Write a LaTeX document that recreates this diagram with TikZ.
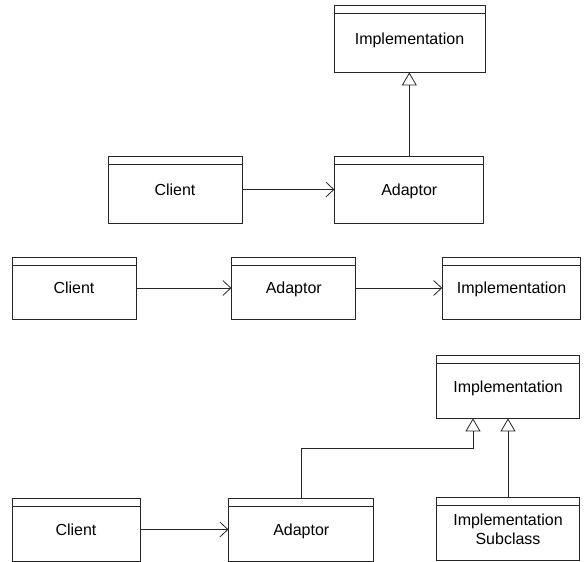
\documentclass[tikz,border=0pt]{standalone}
\usepackage{fontspec}
\setmainfont{Liberation Sans}
\usepackage{tikz}
\usetikzlibrary{arrows.meta, positioning}

\begin{document}
\begin{tikzpicture}[
        x=1pt, y=-1pt,
        classbox/.style={rectangle, draw=black!85, line width=0.8pt, inner sep=0pt, align=center,
            font=\fontsize{16}{19}\selectfont, text height=11.5pt, text depth=0pt,
            path picture={\draw[black!85, line width=0.8pt]
                ([yshift=-8pt]path picture bounding box.north west) --
                ([yshift=-8pt]path picture bounding box.north east);}},
        uses/.style={-{Straight Barb[length=8pt, width=15pt]}, line width=0.8pt, draw=black!85},
        inherit/.style={-{Triangle[open, length=13pt, width=15pt]}, line width=0.8pt, draw=black!85}
    ]
        \useasboundingbox (0,0) rectangle (584,562);
        % first: adaptor inherits from implementation
        \node[classbox, minimum width=151pt, minimum height=67pt] (impl1) at (409.5,38.5) {Implementation};
        \node[classbox, minimum width=134pt, minimum height=67pt] (client1) at (175,189.5) {Client};
        \node[classbox, minimum width=149pt, minimum height=67pt, right=92pt of client1] (adapt1) {Adaptor};
        \draw[uses] (client1.east) -- (adapt1.west);
        \draw[inherit] (adapt1.north) -- (adapt1.north |- impl1.south);
        % second: adaptor delegates to implementation
        \node[classbox, minimum width=124pt, minimum height=62pt] (client2) at (74,288) {Client};
        \node[classbox, minimum width=124pt, minimum height=62pt, right=95pt of client2] (adapt2) {Adaptor};
        \node[classbox, minimum width=138pt, minimum height=62pt, right=86pt of adapt2] (impl2) {Implementation};
        \draw[uses] (client2.east) -- (adapt2.west);
        \draw[uses] (adapt2.east) -- (impl2.west);
        % third: adaptor and subclass both inherit
        \node[classbox, minimum width=128pt, minimum height=63pt] (client3) at (76,529.5) {Client};
        \node[classbox, minimum width=145pt, minimum height=63pt, right=88pt of client3] (adapt3) {Adaptor};
        \node[classbox, minimum width=143pt, minimum height=63pt] (impl3) at (508,386.5) {Implementation};
        \node[classbox, text height=, text depth=, minimum width=143pt, minimum height=63pt, below=79pt of impl3] (sub3) {Implementation\\Subclass};
        \coordinate (bend) at (473,448);
        \draw[uses] (client3.east) -- (adapt3.west);
        \draw[inherit] (adapt3.north) |- (bend) -- (bend |- impl3.south);
        \draw[inherit] (sub3.north) -- (impl3.south);
    \end{tikzpicture}
\end{document}
